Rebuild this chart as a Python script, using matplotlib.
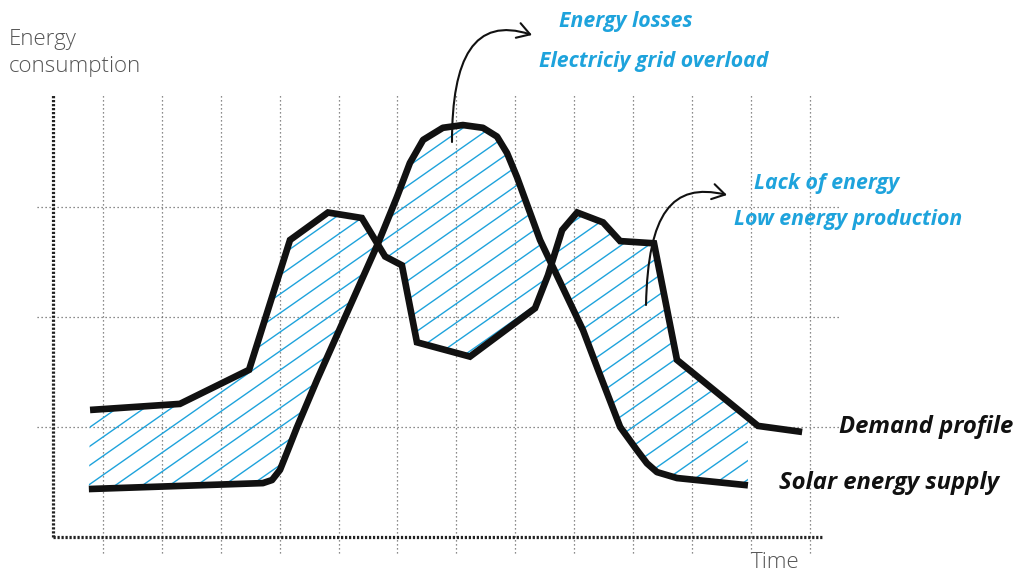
import numpy as np
import matplotlib
matplotlib.use("Agg")
import matplotlib.pyplot as plt
from matplotlib.patches import Polygon, FancyArrowPatch
from matplotlib.path import Path

# time of day (h) / energy level
demand_t = [-0.44, 2.61, 4.96, 6.35, 7.64, 8.79, 9.58, 10.15, 10.66, 12.46,
            14.67, 15.11, 15.59, 16.10, 16.98, 17.56, 18.71, 19.49, 22.24, 23.74]
demand_e = [1.155, 1.21, 1.52, 2.70, 2.95, 2.90, 2.55, 2.47, 1.77, 1.64,
            2.08, 2.38, 2.79, 2.95, 2.86, 2.69, 2.67, 1.61, 1.01, 0.955]

supply_t = [-0.48, 5.43, 5.74, 6.01, 6.28, 6.59, 7.27, 9.34, 9.98, 10.42,
            10.87, 11.54, 12.22, 12.90, 13.38, 13.72, 14.06, 14.84, 16.30,
            16.81, 17.56, 18.13, 18.47, 18.81, 19.49, 21.90]
supply_e = [0.436, 0.49, 0.518, 0.61, 0.79, 1.00, 1.43, 2.67, 3.09, 3.40,
            3.61, 3.72, 3.745, 3.72, 3.64, 3.49, 3.27, 2.70, 1.88,
            1.52, 1.00, 0.79, 0.67, 0.59, 0.536, 0.47]

grid_hours = np.arange(0, 25, 2)
grid_levels = [1, 2, 3]

CYAN = "#1ea3dc"
GRAY = "#555555"

W, H = 1018, 572


def to_data(px, py):
    # pixel position -> (hour, energy)
    return (px - 103) / 29.45, (537 - py) / 110


fig = plt.figure(figsize=(W / 100, H / 100), dpi=100)
ax = fig.add_axes([0, 0, 1, 1])
x0, y1 = to_data(0, 0)
x1, y0 = to_data(W, H)
ax.set_xlim(x0, x1)
ax.set_ylim(y0, y1)
ax.axis("off")

# thin dotted grid
for h in grid_hours:
    ax.plot([h, h], [-0.145, 4.02], color="#666666", lw=0.9,
            linestyle=(0, (1, 2.2)), zorder=1)
for lv in grid_levels:
    ax.plot([-2.24, 25.03], [lv, lv], color="#666666", lw=0.9,
            linestyle=(0, (1, 2.2)), zorder=1)

# heavy dotted axes
ax.plot([-1.70, -1.70], [0, 4.02], color="#222222", lw=2.3,
        linestyle=(0, (0.7, 0.55)), zorder=2)
ax.plot([-1.70, 24.41], [0, 0], color="#222222", lw=2.3,
        linestyle=(0, (0.7, 0.55)), zorder=2)

# hatched area between the two profiles
t_end = supply_t[-1]
dt = np.array(demand_t)
de = np.array(demand_e)
keep = dt < t_end
poly_t = list(dt[keep]) + [t_end] + supply_t[::-1]
poly_e = list(de[keep]) + [np.interp(t_end, dt, de)] + supply_e[::-1]
area = Polygon(np.column_stack([poly_t, poly_e]), closed=True,
               facecolor="none", edgecolor="none")
ax.add_patch(area)

slope = 0.7 * 29.45 / 110
step = 19 / 110
xs = np.array([-3, 26])
for c in np.arange(-6, 5, step):
    ln, = ax.plot(xs, slope * xs + c, color=CYAN, lw=1.0, zorder=3)
    ln.set_clip_path(area)

ax.plot(demand_t, demand_e, color="#111111", lw=4.8, solid_joinstyle="miter",
        solid_capstyle="butt", zorder=4)
ax.plot(supply_t, supply_e, color="#111111", lw=4.8, solid_joinstyle="round",
        solid_capstyle="butt", zorder=4)

# curved arrows
def curved_arrow(pts):
    verts = [to_data(*p) for p in pts]
    path = Path(verts, [Path.MOVETO, Path.CURVE4, Path.CURVE4, Path.CURVE4])
    ar = FancyArrowPatch(path=path, arrowstyle="->,head_length=9,head_width=5.5",
                         color="#111111", lw=1.5, zorder=6)
    ax.add_patch(ar)


curved_arrow([(452, 142), (452, 58), (474, 16), (532, 35)])
curved_arrow([(646, 305), (648, 213), (672, 182), (727, 195)])

# texts
def ftext(px, py, s, **kw):
    fig.text(px / W, 1 - py / H, s, **kw)


lab = dict(family="Open Sans", fontweight="light", color=GRAY, fontsize=16,
           va="center", ha="left")
ftext(9, 39, "Energy", **lab)
ftext(9, 67, "consumption", **lab)
ftext(751, 562, "Time", **lab)

cy = dict(family="Open Sans", fontweight="bold", style="italic", color=CYAN,
          fontsize=15.3, va="center", ha="left")
ftext(559, 22, "Energy losses", **cy)
ftext(539, 61, "Electriciy grid overload", **cy)
ftext(754, 183, "Lack of energy", **cy)
ftext(734, 220, "Low energy production", **cy)

bk = dict(family="Open Sans", fontweight="bold", style="italic", color="#111111",
          fontsize=17.2, va="center", ha="left")
ftext(839, 427, "Demand profile", **bk)
ftext(779, 483, "Solar energy supply", **bk)

fig.savefig("out.png", dpi=100)
